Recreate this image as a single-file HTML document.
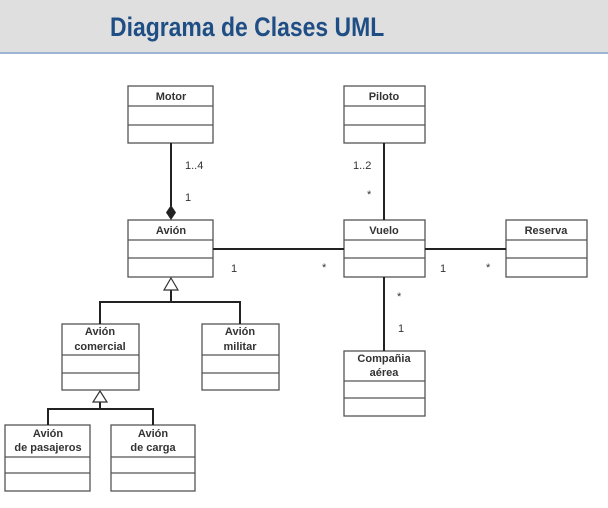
<!DOCTYPE html>
<html><head><meta charset="utf-8"><style>
body{margin:0;width:608px;height:508px;background:#fff;overflow:hidden;font-family:"Liberation Sans",sans-serif;}
.hdr{position:absolute;left:0;top:0;width:608px;height:52px;background:#dfdfe0;border-bottom:2px solid #9ab6d4;}
.hdr div{position:absolute;left:110px;top:12px;font-size:27px;font-weight:bold;color:#1f4e84;white-space:nowrap;transform-origin:0 0;transform:scaleX(0.85);}
svg{position:absolute;left:0;top:0;}
text{font-family:"Liberation Sans",sans-serif;fill:#333;font-size:11px;}
.b{font-weight:bold;text-anchor:middle;}
</style></head><body>
<div class="hdr"><div>Diagrama de Clases UML</div></div>
<svg width="608" height="508" viewBox="0 0 608 508">
<g fill="#fff" stroke="#555" stroke-width="1.3">
<rect x="128" y="86" width="85" height="57"/><line x1="128" y1="106" x2="213" y2="106"/><line x1="128" y1="125" x2="213" y2="125"/>
<rect x="344" y="86" width="81" height="57"/><line x1="344" y1="106" x2="425" y2="106"/><line x1="344" y1="125" x2="425" y2="125"/>
<rect x="128" y="220" width="85" height="57"/><line x1="128" y1="240" x2="213" y2="240"/><line x1="128" y1="258" x2="213" y2="258"/>
<rect x="344" y="220" width="81" height="57"/><line x1="344" y1="240" x2="425" y2="240"/><line x1="344" y1="258" x2="425" y2="258"/>
<rect x="506" y="220" width="81" height="57"/><line x1="506" y1="240" x2="587" y2="240"/><line x1="506" y1="258" x2="587" y2="258"/>
<rect x="344" y="351" width="81" height="65"/><line x1="344" y1="381" x2="425" y2="381"/><line x1="344" y1="398" x2="425" y2="398"/>
<rect x="62" y="324" width="77" height="66"/><line x1="62" y1="355" x2="139" y2="355"/><line x1="62" y1="373" x2="139" y2="373"/>
<rect x="202" y="324" width="77" height="66"/><line x1="202" y1="355" x2="279" y2="355"/><line x1="202" y1="373" x2="279" y2="373"/>
<rect x="5" y="425" width="85" height="66"/><line x1="5" y1="457" x2="90" y2="457"/><line x1="5" y1="473" x2="90" y2="473"/>
<rect x="111" y="425" width="84" height="66"/><line x1="111" y1="457" x2="195" y2="457"/><line x1="111" y1="473" x2="195" y2="473"/>
</g>
<g stroke="#222" stroke-width="2" fill="none">
<line x1="171" y1="143" x2="171" y2="206"/>
<line x1="384" y1="143" x2="384" y2="220"/>
<line x1="213" y1="249" x2="344" y2="249"/>
<line x1="425" y1="249" x2="506" y2="249"/>
<line x1="384" y1="277" x2="384" y2="351"/>
<line x1="171" y1="290" x2="171" y2="302"/>
<polyline points="100,324 100,302 240,302 240,324"/>
<line x1="100" y1="402" x2="100" y2="409"/>
<polyline points="48,425 48,409 153,409 153,425"/>
</g>
<polygon points="171,205 176,212.5 171,220 166,212.5" fill="#222"/>
<polygon points="171,278 178,290 164,290" fill="#fff" stroke="#333" stroke-width="1.2"/>
<polygon points="100,391 107,402 93,402" fill="#fff" stroke="#333" stroke-width="1.2"/>
<text class="b" x="171" y="100">Motor</text>
<text class="b" x="384" y="100">Piloto</text>
<text class="b" x="171" y="234">Avión</text>
<text class="b" x="384" y="234">Vuelo</text>
<text class="b" x="546" y="234">Reserva</text>
<text class="b" x="384" y="362">Compañia</text>
<text class="b" x="384" y="376">aérea</text>
<text class="b" x="100" y="335">Avión</text>
<text class="b" x="100" y="350">comercial</text>
<text class="b" x="240" y="335">Avión</text>
<text class="b" x="240" y="350">militar</text>
<text class="b" x="48" y="437">Avión</text>
<text class="b" x="48" y="451">de pasajeros</text>
<text class="b" x="153" y="437">Avión</text>
<text class="b" x="153" y="451">de carga</text>
<text x="185" y="169">1..4</text>
<text x="185" y="201">1</text>
<text x="353" y="169">1..2</text>
<text x="367" y="198">*</text>
<text x="231" y="272">1</text>
<text x="322" y="271">*</text>
<text x="440" y="272">1</text>
<text x="486" y="271">*</text>
<text x="397" y="300">*</text>
<text x="398" y="332">1</text>
</svg>
</body></html>
